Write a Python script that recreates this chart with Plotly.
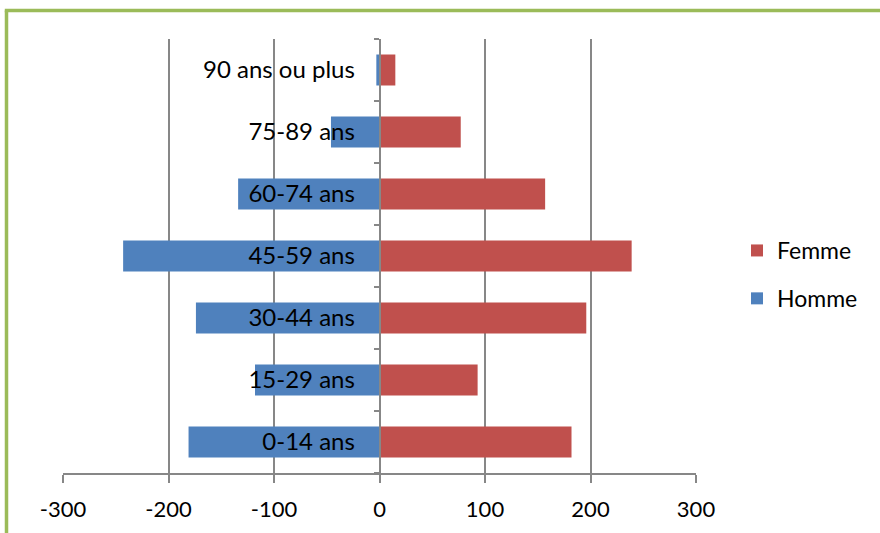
import plotly.graph_objects as go

categories = ["0-14 ans", "15-29 ans", "30-44 ans", "45-59 ans", "60-74 ans", "75-89 ans", "90 ans ou plus"]
homme = [-181, -118, -174, -243, -134, -46, -3]
femme = [182, 93, 196, 239, 157, 77, 15]
x_ticks = [-300, -200, -100, 0, 100, 200, 300]

BLUE = "#4F81BD"
RED = "#C0504D"
GRID = "#878787"
GREEN = "#9BBB59"
FONT = "Lato"

fig = go.Figure()
fig.add_trace(go.Bar(y=categories, x=femme, orientation="h", name="Femme",
                     marker=dict(color=RED, line=dict(width=0)), legendgroup="f"))
fig.add_trace(go.Bar(y=categories, x=homme, orientation="h", name="Homme",
                     marker=dict(color=BLUE, line=dict(width=0)), legendgroup="h"))

W, H = 880, 533
L, T = 63, 39
pw, ph = 633, 434
R, B = W - L - pw, H - T - ph

def px_x(sx):
    return (sx - L) / pw

def px_y(sy):
    return (T + ph - sy) / ph

fig.update_layout(
    width=W, height=H,
    margin=dict(l=L, r=R, t=T, b=B),
    barmode="relative",
    bargap=0.5,
    plot_bgcolor="white",
    paper_bgcolor="white",
    font=dict(family=FONT, color="black", size=22),
    showlegend=True,
    legend=dict(traceorder="grouped", tracegroupgap=15,
                x=px_x(737), xanchor="left",
                y=px_y(274.5), yanchor="middle",
                font=dict(size=23), itemclick=False, bgcolor="rgba(0,0,0,0)"),
    xaxis=dict(range=[-300, 300], tickvals=x_ticks, ticktext=[str(v) for v in x_ticks],
               showgrid=True, gridcolor=GRID, gridwidth=1.6,
               zeroline=False, showline=True, linecolor=GRID, linewidth=1.6,
               ticks="outside", ticklen=8, tickcolor=GRID, tickwidth=1.6,
               ticklabelstandoff=8,
               tickfont=dict(size=22), fixedrange=True),
    yaxis=dict(type="category", categoryorder="array", categoryarray=categories,
               anchor="free", position=0.5,
               showline=True, linecolor=GRID, linewidth=1.6,
               ticks="outside", ticklen=5, tickcolor=GRID, tickwidth=1.6,
               tickson="boundaries", showgrid=False, zeroline=False,
               ticklabelstandoff=19,
               tickfont=dict(size=24), layer="above traces", fixedrange=True),
)

# green frame (top and left edges)
xl = px_x(6.5)
yt = px_y(10.5)
fig.add_shape(type="line", xref="paper", yref="paper", x0=px_x(4.8), x1=1.4, y0=yt, y1=yt,
              line=dict(color=GREEN, width=3.5))
fig.add_shape(type="line", xref="paper", yref="paper", x0=xl, x1=xl, y0=yt, y1=-0.2,
              line=dict(color=GREEN, width=3.5))

fig.write_html("out.html", config={"displayModeBar": False},
               post_script="document.body.style.margin='0';")
